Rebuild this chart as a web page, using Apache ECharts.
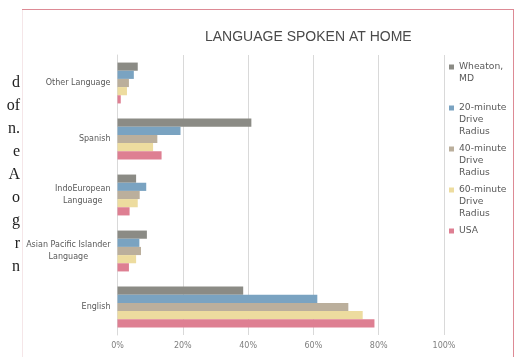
<!DOCTYPE html>
<html>
<head>
<meta charset="utf-8">
<script src="https://cdn.jsdelivr.net/npm/echarts@6/dist/echarts.min.js"></script>
<style>
  html, body { margin: 0; padding: 0; background: #fff; }
  #chart { width: 518px; height: 357px; }
</style>
</head>
<body>
<div id="chart"></div>
<script>
// categories, top to bottom
const categories = ['Other Language', 'Spanish', 'IndoEuropean Language', 'Asian Pacific Islander Language', 'English']
// share of population (%)
const wheaton = [6.2, 41.0, 5.7, 9.0, 38.5]
const drive20 = [5.0, 19.3, 8.8, 6.7, 61.2]
const drive40 = [3.5, 12.2, 6.8, 7.2, 70.7]
const drive60 = [2.9, 10.9, 6.2, 5.7, 75.1]
const usa = [1.0, 13.5, 3.7, 3.5, 78.7]
const xTicks = [0, 20, 40, 60, 80, 100]
// fragments of the page text cut off at the left edge
const sideText = ['d', 'of', 'n.', 'e', 'A', 'o', 'g', 'r', 'n']

const seriesNames = ['Wheaton, MD', '20-minute Drive Radius', '40-minute Drive Radius', '60-minute Drive Radius', 'USA']
const legendText = {
  'Wheaton, MD': 'Wheaton,\nMD\n ',
  '20-minute Drive Radius': '20-minute\nDrive\nRadius',
  '40-minute Drive Radius': '40-minute\nDrive\nRadius',
  '60-minute Drive Radius': '60-minute\nDrive\nRadius',
  'USA': 'USA\n \n '
}
const colors = ['#8b8b85', '#7aa3c1', '#bbaf9c', '#eddc9f', '#de7f92']
const values = [wheaton, drive20, drive40, drive60, usa]

const chart = echarts.init(document.getElementById('chart'))

const option = {
  animation: false,
  title: {
    text: 'LANGUAGE SPOKEN AT HOME',
    left: 200,
    top: 25,
    textStyle: { fontFamily: 'Liberation Sans', fontSize: 14, fontWeight: 'normal', color: '#4a4a4a' }
  },
  grid: { left: 117.5, right: 74, top: 55, bottom: 22, outerBoundsMode: 'none' },
  legend: {
    orient: 'vertical',
    left: 444,
    top: 56,
    itemWidth: 5,
    itemHeight: 36,
    itemGap: 5,
    icon: 'path://M0,3.5h5v5h-5z M0,0L0,0 M0,36L0,36',
    formatter: name => legendText[name],
    textStyle: { fontFamily: 'DejaVu Sans', fontSize: 9.2, lineHeight: 12, color: '#595959' },
    data: seriesNames
  },
  xAxis: {
    type: 'value',
    min: xTicks[0],
    max: xTicks[xTicks.length - 1],
    interval: 20,
    axisLine: { show: false },
    axisTick: { show: false },
    axisLabel: {
      formatter: v => v + '%',
      fontFamily: 'DejaVu Sans',
      fontSize: 8,
      color: '#7f7f7f',
      margin: 7
    },
    splitLine: { lineStyle: { color: '#d9d9d9' } }
  },
  yAxis: {
    type: 'category',
    inverse: true,
    data: categories,
    axisLine: { show: true, lineStyle: { color: '#d9d9d9' } },
    axisTick: { show: false },
    axisLabel: {
      margin: 7,
      fontFamily: 'DejaVu Sans',
      fontSize: 8,
      lineHeight: 12,
      color: '#595959',
      formatter: v => {
        if (v === 'IndoEuropean Language') return '{c|IndoEuropean}\n{c|Language}'
        if (v === 'Asian Pacific Islander Language') return '{c|Asian Pacific Islander}\n{c|Language}'
        return v
      },
      rich: {
        c: { align: 'center', fontFamily: 'DejaVu Sans', fontSize: 8, lineHeight: 12, color: '#595959' }
      }
    }
  },
  series: seriesNames.map((name, i) => ({
    name: name,
    type: 'bar',
    data: values[i],
    barGap: 0,
    barCategoryGap: '27%',
    itemStyle: { color: colors[i] }
  })),
  graphic: [
    { type: 'line', shape: { x1: 22, y1: 9.5, x2: 514, y2: 9.5 }, style: { stroke: '#dd8a95', lineWidth: 1 } },
    { type: 'line', shape: { x1: 513.5, y1: 9, x2: 513.5, y2: 357 }, style: { stroke: '#dd8a95', lineWidth: 1 } },
    { type: 'line', shape: { x1: 22.5, y1: 10, x2: 22.5, y2: 357 }, style: { stroke: '#f5e6e8', lineWidth: 1 } }
  ].concat(sideText.map((t, i) => ({
    type: 'text',
    right: 498,
    top: 75 + i * 23,
    style: { text: t, font: '16px "Liberation Serif"', fill: '#222' }
  })))
}

chart.setOption(option)
</script>
</body>
</html>
